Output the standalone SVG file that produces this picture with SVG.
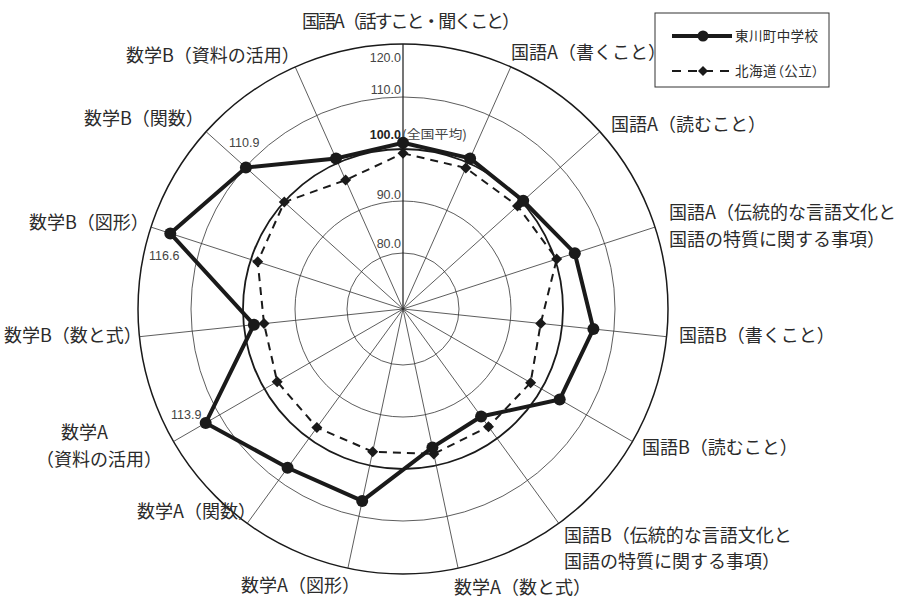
<svg xmlns="http://www.w3.org/2000/svg" width="902" height="601" viewBox="0 0 902 601">
<style>
.lbl{font-family:"Noto Sans CJK JP","Noto Sans",sans-serif;font-size:18px;fill:#2b2b2b}
.num{font-family:"Liberation Sans","Noto Sans CJK JP",sans-serif;font-size:12.5px;fill:#444}
.ring{fill:none;stroke:#333;stroke-width:0.8}
.axis{stroke:#333;stroke-width:0.8}
.leg{font-family:"Noto Sans CJK JP",sans-serif;font-size:13.5px;fill:#2b2b2b;font-feature-settings:"palt"}
</style>
<defs>
<circle id="dot" r="6" fill="#1a1a1a"/>
<path id="dia" d="M0,-5.5L5.5,0L0,5.5L-5.5,0Z" fill="#1a1a1a"/>
</defs>
<rect width="902" height="601" fill="#fff"/>
<g id="grid">
<circle class="ring" cx="403" cy="309" r="56"/>
<circle class="ring" cx="403" cy="309" r="108"/>
<circle class="ring" cx="403" cy="309" r="212"/>
<circle cx="403" cy="309" r="160" fill="none" stroke="#1a1a1a" stroke-width="1.8"/>
<circle cx="403" cy="309" r="265" fill="none" stroke="#1a1a1a" stroke-width="1.5"/>
</g>
<g id="axes">
<line x1="403" y1="309" x2="403" y2="44" stroke="#1a1a1a" stroke-width="1.2"/>
<line class="axis" x1="403" y1="309" x2="510.8" y2="66.9"/>
<line class="axis" x1="403" y1="309" x2="599.9" y2="131.7"/>
<line class="axis" x1="403" y1="309" x2="655" y2="227.1"/>
<line class="axis" x1="403" y1="309" x2="666.5" y2="336.7"/>
<line class="axis" x1="403" y1="309" x2="632.5" y2="441.5"/>
<line class="axis" x1="403" y1="309" x2="558.8" y2="523.4"/>
<line class="axis" x1="403" y1="309" x2="458.1" y2="568.2"/>
<line class="axis" x1="403" y1="309" x2="347.9" y2="568.2"/>
<line class="axis" x1="403" y1="309" x2="247.2" y2="523.4"/>
<line class="axis" x1="403" y1="309" x2="173.5" y2="441.5"/>
<line class="axis" x1="403" y1="309" x2="139.5" y2="336.7"/>
<line class="axis" x1="403" y1="309" x2="151" y2="227.1"/>
<line class="axis" x1="403" y1="309" x2="206.1" y2="131.7"/>
<line class="axis" x1="403" y1="309" x2="295.2" y2="66.9"/>
</g>
<g id="scale-labels" class="num" text-anchor="end">
<text x="401" y="62">120.0</text>
<text x="401" y="94">110.0</text>
<text x="401" y="139" font-weight="bold" fill="#222">100.0</text>
<text x="401" y="199">90.0</text>
<text x="401" y="248">80.0</text>
</g>
<text x="402" y="139" class="num" style="font-family:'Noto Sans CJK JP',sans-serif;font-size:12.5px" textLength="65" lengthAdjust="spacingAndGlyphs">(全国平均)</text>
<g id="series-hokkaido">
<polygon points="403,153.3 465.8,168 517.5,205.9 556.7,259.1 540.7,323.5 530.6,382.7 488.5,426.7 433.8,453.9 372.7,451.7 316.9,427.5 277.2,381.7 264,323.6 257.7,261.8 284.3,202.1 345.6,180.1" fill="none" stroke="#1a1a1a" stroke-width="2" stroke-dasharray="8,6"/>
<use href="#dia" x="403" y="153.3"/><use href="#dia" x="465.8" y="168"/><use href="#dia" x="517.5" y="205.9"/><use href="#dia" x="556.7" y="259.1"/><use href="#dia" x="540.7" y="323.5"/><use href="#dia" x="530.6" y="382.7"/><use href="#dia" x="488.5" y="426.7"/><use href="#dia" x="433.8" y="453.9"/><use href="#dia" x="372.7" y="451.7"/><use href="#dia" x="316.9" y="427.5"/><use href="#dia" x="277.2" y="381.7"/><use href="#dia" x="264" y="323.6"/><use href="#dia" x="257.7" y="261.8"/><use href="#dia" x="284.3" y="202.1"/><use href="#dia" x="345.6" y="180.1"/>
</g>
<g id="series-school">
<polygon points="403,142.7 470.1,158.4 523.2,200.8 574.8,253.2 593.4,329 559.7,399.5 481.1,416.5 432.4,447.4 362.2,500.9 287.6,467.8 205.7,422.9 253.9,324.7 170.3,233.4 245.9,167.6 336,158.5" fill="none" stroke="#1a1a1a" stroke-width="4" stroke-linejoin="miter"/>
<use href="#dot" x="403" y="142.7"/><use href="#dot" x="470.1" y="158.4"/><use href="#dot" x="523.2" y="200.8"/><use href="#dot" x="574.8" y="253.2"/><use href="#dot" x="593.4" y="329"/><use href="#dot" x="559.7" y="399.5"/><use href="#dot" x="481.1" y="416.5"/><use href="#dot" x="432.4" y="447.4"/><use href="#dot" x="362.2" y="500.9"/><use href="#dot" x="287.6" y="467.8"/><use href="#dot" x="205.7" y="422.9"/><use href="#dot" x="253.9" y="324.7"/><use href="#dot" x="170.3" y="233.4"/><use href="#dot" x="245.9" y="167.6"/><use href="#dot" x="336" y="158.5"/>
</g>
<g id="value-labels" class="num">
<text x="229" y="147">110.9</text>
<text x="149" y="260">116.6</text>
<text x="171" y="419">113.9</text>
</g>
<g id="axis-labels" class="lbl">
<text x="302" y="28" textLength="218" lengthAdjust="spacing">国語A（話すこと・聞くこと）</text>
<text x="511" y="59">国語A（書くこと）</text>
<text x="611" y="130.5">国語A（読むこと）</text>
<text x="669" y="219">国語A（伝統的な言語文化と</text>
<text x="669" y="245.5">国語の特質に関する事項）</text>
<text x="679" y="342">国語B（書くこと）</text>
<text x="642" y="454">国語B（読むこと）</text>
<text x="564" y="542">国語B（伝統的な言語文化と</text>
<text x="564" y="568">国語の特質に関する事項）</text>
<text x="454" y="594">数学A（数と式）</text>
<text x="241" y="592">数学A（図形）</text>
<text x="137" y="518">数学A（関数）</text>
<text x="61" y="439">数学A</text>
<text x="36" y="465.5">（資料の活用）</text>
<text x="4" y="342">数学B（数と式）</text>
<text x="29" y="229">数学B（図形）</text>
<text x="84" y="125">数学B（関数）</text>
<text x="126" y="62">数学B（資料の活用）</text>
</g>
<g id="legend">
<rect x="655" y="13" width="174" height="74" fill="#fff" stroke="#333" stroke-width="1"/>
<line x1="672" y1="36" x2="732" y2="36" stroke="#1a1a1a" stroke-width="4"/>
<circle cx="703" cy="36" r="5.5" fill="#1a1a1a"/>
<text class="leg" x="735" y="41" textLength="83">東川町中学校</text>
<line x1="672" y1="71" x2="734" y2="71" stroke="#1a1a1a" stroke-width="2" stroke-dasharray="9,7"/>
<path d="M703,66L708,71L703,76L698,71Z" fill="#1a1a1a"/>
<text class="leg" x="735" y="76" textLength="84">北海道（公立）</text>
</g>
</svg>
